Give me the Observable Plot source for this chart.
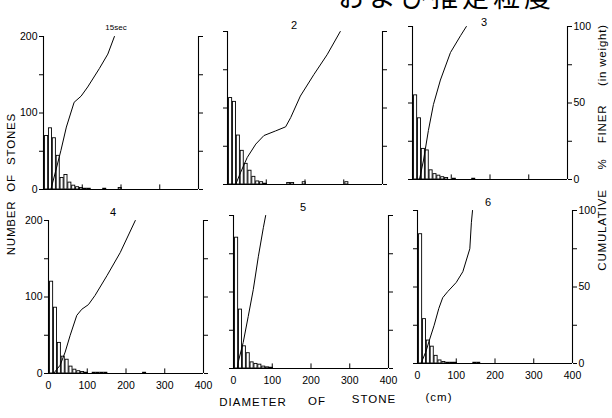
<!DOCTYPE html>
<html><head><meta charset="utf-8">
<script src="https://cdn.jsdelivr.net/npm/d3@7"></script>
<script src="https://cdn.jsdelivr.net/npm/@observablehq/plot@0.6"></script>
<style>
html,body{margin:0;padding:0;background:#fff;}
#root{position:relative;width:612px;height:418px;overflow:hidden;background:#fff;font-family:"Liberation Sans",Arial,sans-serif;color:#000;}
.panel{position:absolute;}
.lbl{position:absolute;white-space:pre;transform:translate(-50%,-50%);line-height:1;}
.rot{position:absolute;white-space:pre;transform:translate(-50%,-50%) rotate(-90deg);line-height:1;font-size:11.5px;letter-spacing:0.8px;}
</style></head><body><div id="root"></div>
<script>
// ---- data ----
const panelNames = ["15sec", "2", "3", "4", "5", "6"];
const classLowerCm = [3,13,23,33,43,53,63,73,83,93,103,113,123,133,143,153,163,173,183,193,203,213,223,233,243,253,263,273,283,293,303];
const classWidthCm = 10;
const counts1 = [70, 80, 67, 44, 15, 19, 9, 5, 3, 2, 1, 1, 0, 0, 0, 1, 0, 0, 0, 2];
const counts2 = [113, 108, 64, 44, 27, 18, 10, 4, 3, 1, 0, 0, 0, 0, 0, 2, 2, 0, 0, 3, 0, 0, 0, 0, 0, 0, 0, 0, 0, 0, 3];
const counts3 = [110, 80, 40, 38, 12, 7, 5, 3, 2, 0, 1, 0, 0, 0, 0, 1];
const counts4 = [120, 86, 40, 22, 18, 9, 5, 3, 2, 1, 0, 1, 1, 1, 1, 0, 0, 0, 0, 0, 0, 0, 0, 0, 1];
const counts5 = [171, 77, 29, 20, 8, 6, 5, 2.5, 1.5, 1];
const counts6 = [169, 58, 30, 22, 10, 4, 2, 1, 1, 1, 0, 0, 0, 0, 1, 1];
// cumulative % finer (by weight): [diameter cm, percent]
const cum1 = [[19,0],[32,12.6],[45,25.6],[59,40.8],[79,57],[97,61],[114,67],[144,79],[166,88.5],[183,100]];
const cum2 = [[21,0],[34,8],[51,17.7],[73,26.4],[94,32],[124,35],[150,37.7],[163,43.7],[188,57.8],[223,71.9],[257,84.8],[291,100]];
const cum3 = [[18,0],[28.5,12.7],[41,32],[54,49],[72,65],[98,83],[124,94],[139,100]];
const cum4 = [[13,0],[30,5.4],[43,14],[56,25],[73,38],[86,42],[103,45],[120,51],[151,64],[185,79],[224,100]];
const cum5 = [[10,0],[12,4],[25,17],[38,34],[51,51.5],[64,73],[77,92],[83,100]];
const cum6 = [[9,0],[22,8],[30,14.7],[43,25],[55,36],[65,43],[78,47],[100,53],[117,60],[135,75],[139,92],[142,100]];
const diameterTicks = [0, 100, 200, 300, 400];
const countTicks = [0, 50, 100, 150, 200];
const countTickLabels = [0, 100, 200];
const percentTickLabels = [0, 50, 100];
const yTitle = ["NUMBER", "OF", "STONES"];
const y2Title = ["CUMULATIVE", "%", "FINER", "(in weight)"];
const xTitle = ["DIAMETER", "OF", "STONE", "(cm)"];
const topNote = "および推定粒度";

const countsAll = [counts1, counts2, counts3, counts4, counts5, counts6];
const cumAll = [cum1, cum2, cum3, cum4, cum5, cum6];

// ---- layout (pixel geometry of each panel frame) ----
const geom = [
  {x0: 43, base: 189}, {x0: 227, base: 184}, {x0: 412, base: 179},
  {x0: 48, base: 373}, {x0: 233, base: 368}, {x0: 417, base: 363}
];
const PW = 155, PH = 153, mL = 34, mR = 34, mT = 6, mB = 24;

const root = document.getElementById("root");

function addLabel(text, x, y, size, extra = "") {
  const d = document.createElement("div");
  d.className = "lbl";
  d.textContent = text;
  d.style.cssText = `left:${x}px;top:${y}px;font-size:${size}px;${extra}`;
  root.appendChild(d);
}
function addRot(text, x, y) {
  const d = document.createElement("div");
  d.className = "rot";
  d.textContent = text;
  d.style.left = x + "px"; d.style.top = y + "px";
  root.appendChild(d);
}

countsAll.forEach((counts, i) => {
  const col = i % 3, row = Math.floor(i / 3);
  const g = geom[i];
  const bars = classLowerCm.map((lo, k) => ({lo, hi: lo + classWidthCm, n: counts[k] || 0})).filter(d => d.n > 0);
  const cum = cumAll[i].map(([cm, pct]) => ({cm, pct}));
  const marks = [
    Plot.rectY(bars, {x1: "lo", x2: "hi", y: "n", fill: "white", stroke: "black", strokeWidth: 0.9, insetLeft: 0.4, insetRight: 0.4}),
    Plot.line(cum, {x: "cm", y: d => d.pct / 100 * 200, stroke: "black", strokeWidth: 1}),
    Plot.ruleY([0], {stroke: "black", strokeWidth: 1.1}),
    Plot.ruleX([0, 400], {stroke: "black", strokeWidth: 1.1}),
    Plot.ruleX(diameterTicks, {x: d => d, y1: 0, y2: 6, stroke: "black"}),
    Plot.axisY({anchor: "left", ticks: countTicks, tickSize: 4, tickPadding: 2, label: null,
      tickFormat: d => (col === 0 && countTickLabels.includes(d)) ? String(d) : ""}),
    Plot.axisY({anchor: "right", ticks: countTicks, tickSize: 4, tickPadding: 2, label: null,
      tickFormat: d => (col === 2 && percentTickLabels.includes(d / 2)) ? String(d / 2) : ""})
  ];
  if (row === 1) marks.push(Plot.axisX({ticks: diameterTicks, tickSize: 0, tickPadding: 8, label: null, tickFormat: d => String(d)}));
  const chart = Plot.plot({
    width: PW + mL + mR, height: PH + mT + mB,
    marginLeft: mL, marginRight: mR, marginTop: mT, marginBottom: mB,
    x: {domain: [0, 400], axis: null},
    y: {domain: [0, 200], axis: null},
    style: {fontFamily: "Liberation Sans, Arial, sans-serif", fontSize: "10.5px", background: "transparent", overflow: "visible", color: "black"},
    marks
  });
  chart.classList.add("panel");
  chart.style.left = (g.x0 - mL) + "px";
  chart.style.top = (g.base - PH - mT) + "px";
  root.appendChild(chart);
});

// panel names
addLabel(panelNames[0], 116, 28, 8);
addLabel(panelNames[1], 294, 25, 11);
addLabel(panelNames[2], 484, 22, 11);
addLabel(panelNames[3], 113, 212, 11);
addLabel(panelNames[4], 303, 207, 11);
addLabel(panelNames[5], 488, 202, 11);

// axis titles
addRot(yTitle[0], 12, 228); addRot(yTitle[1], 12, 183); addRot(yTitle[2], 12, 139);
addRot(y2Title[0], 603, 230); addRot(y2Title[1], 603, 164); addRot(y2Title[2], 603, 124); addRot(y2Title[3], 603, 55);
addLabel(xTitle[0], 253, 403, 11.5, "letter-spacing:1px;");
addLabel(xTitle[1], 317, 402, 11.5, "letter-spacing:1px;");
addLabel(xTitle[2], 374, 400, 11.5, "letter-spacing:1px;");
addLabel(xTitle[3], 439, 398, 11.5, "letter-spacing:1px;");

// clipped handwritten heading at the very top
const jp = document.createElement("div");
jp.textContent = topNote;
jp.style.cssText = "position:absolute;left:338px;top:-20px;font-family:'Noto Sans CJK JP';font-size:27px;letter-spacing:4px;white-space:nowrap;line-height:1.2;";
root.appendChild(jp);
</script></body></html>
